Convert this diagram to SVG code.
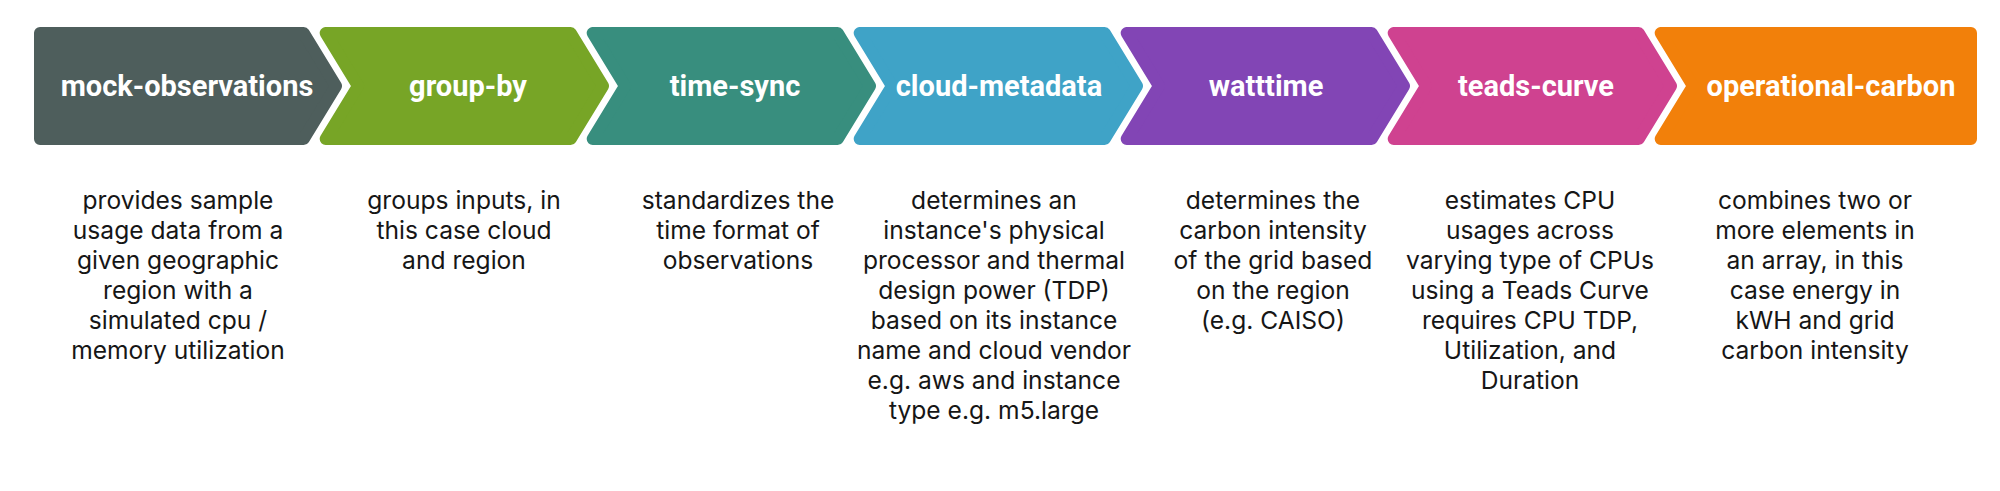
<svg xmlns="http://www.w3.org/2000/svg" width="2000" height="491" viewBox="0 0 2000 491">
<style>
.shape{stroke-width:12;stroke-linejoin:round}
.lbl{font-family:Roboto,"Liberation Sans",sans-serif;font-weight:700;font-size:29px;fill:#ffffff;text-anchor:middle}
.desc{font-family:Inter,"Liberation Sans",sans-serif;font-weight:400;font-size:24.6px;fill:#161616;text-anchor:middle}
</style>
<rect width="2000" height="491" fill="#ffffff"/>
<g id="connectors"/>
<g id="mock-observations">
<polygon class="shape" fill="#4e5e5c" stroke="#4e5e5c" points="40,33 303.63,33 335.97,86 303.63,139 40,139"/>
<text class="lbl" x="187" y="96">mock-observations</text>
<text class="desc" x="178" y="208.5"><tspan x="178">provides sample</tspan><tspan x="178" dy="30">usage data from a</tspan><tspan x="178" dy="30">given geographic</tspan><tspan x="178" dy="30">region with a</tspan><tspan x="178" dy="30">simulated cpu /</tspan><tspan x="178" dy="30">memory utilization</tspan></text>
</g>
<g id="group-by">
<polygon class="shape" fill="#77a526" stroke="#77a526" points="325.69,33 570.63,33 602.97,86 570.63,139 325.69,139 358.03,86"/>
<text class="lbl" x="468" y="96">group-by</text>
<text class="desc" x="464" y="208.5"><tspan x="464">groups inputs, in</tspan><tspan x="464" dy="30">this case cloud</tspan><tspan x="464" dy="30">and region</tspan></text>
</g>
<g id="time-sync">
<polygon class="shape" fill="#388e7e" stroke="#388e7e" points="592.69,33 837.63,33 869.97,86 837.63,139 592.69,139 625.03,86"/>
<text class="lbl" x="735" y="96">time-sync</text>
<text class="desc" x="738" y="208.5"><tspan x="738">standardizes the</tspan><tspan x="738" dy="30">time format of</tspan><tspan x="738" dy="30">observations</tspan></text>
</g>
<g id="cloud-metadata">
<polygon class="shape" fill="#3fa3c7" stroke="#3fa3c7" points="859.69,33 1104.63,33 1136.97,86 1104.63,139 859.69,139 892.03,86"/>
<text class="lbl" x="999" y="96">cloud-metadata</text>
<text class="desc" x="994" y="208.5"><tspan x="994">determines an</tspan><tspan x="994" dy="30">instance's physical</tspan><tspan x="994" dy="30">processor and thermal</tspan><tspan x="994" dy="30">design power (TDP)</tspan><tspan x="994" dy="30">based on its instance</tspan><tspan x="994" dy="30">name and cloud vendor</tspan><tspan x="994" dy="30">e.g. aws and instance</tspan><tspan x="994" dy="30">type e.g. m5.large</tspan></text>
</g>
<g id="watttime">
<polygon class="shape" fill="#8245b5" stroke="#8245b5" points="1126.69,33 1371.63,33 1403.97,86 1371.63,139 1126.69,139 1159.03,86"/>
<text class="lbl" x="1266" y="96">watttime</text>
<text class="desc" x="1273" y="208.5"><tspan x="1273">determines the</tspan><tspan x="1273" dy="30">carbon intensity</tspan><tspan x="1273" dy="30">of the grid based</tspan><tspan x="1273" dy="30">on the region</tspan><tspan x="1273" dy="30">(e.g. CAISO)</tspan></text>
</g>
<g id="teads-curve">
<polygon class="shape" fill="#cf4290" stroke="#cf4290" points="1393.69,33 1638.63,33 1670.97,86 1638.63,139 1393.69,139 1426.03,86"/>
<text class="lbl" x="1536" y="96">teads-curve</text>
<text class="desc" x="1530" y="208.5"><tspan x="1530">estimates CPU</tspan><tspan x="1530" dy="30">usages across</tspan><tspan x="1530" dy="30">varying type of CPUs</tspan><tspan x="1530" dy="30">using a Teads Curve</tspan><tspan x="1530" dy="30">requires CPU TDP,</tspan><tspan x="1530" dy="30">Utilization, and</tspan><tspan x="1530" dy="30">Duration</tspan></text>
</g>
<g id="operational-carbon">
<polygon class="shape" fill="#f2800a" stroke="#f2800a" points="1660.69,33 1971,33 1971,139 1660.69,139 1693.03,86"/>
<text class="lbl" x="1831" y="96">operational-carbon</text>
<text class="desc" x="1815" y="208.5"><tspan x="1815">combines two or</tspan><tspan x="1815" dy="30">more elements in</tspan><tspan x="1815" dy="30">an array, in this</tspan><tspan x="1815" dy="30">case energy in</tspan><tspan x="1815" dy="30">kWH and grid</tspan><tspan x="1815" dy="30">carbon intensity</tspan></text>
</g>
</svg>
